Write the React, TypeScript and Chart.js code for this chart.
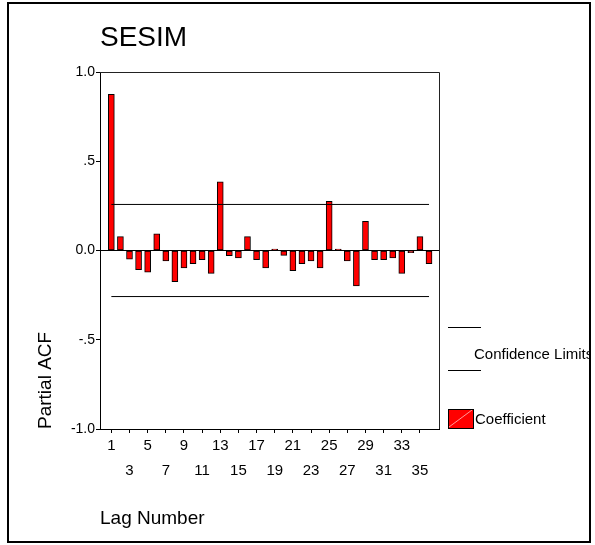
import React, { useEffect, useRef } from "react";
import { Chart, registerables } from "chart.js";

Chart.register(...registerables);

// ---- data ----
const lags = [1, 2, 3, 4, 5, 6, 7, 8, 9, 10, 11, 12, 13, 14, 15, 16, 17, 18, 19, 20, 21, 22, 23, 24, 25, 26, 27, 28, 29, 30, 31, 32, 33, 34, 35, 36];
const pacf = [
  0.875, 0.078, -0.049, -0.107, -0.121, 0.093, -0.058, -0.175, -0.097, -0.074,
  -0.051, -0.128, 0.385, -0.029, -0.041, 0.078, -0.051, -0.097, 0.008, -0.027,
  -0.113, -0.074, -0.058, -0.097, 0.276, 0.008, -0.058, -0.198, 0.163, -0.051,
  -0.051, -0.041, -0.128, -0.012, 0.078, -0.074,
];
const upperLimit = [0.258, 0.258];
const lowerLimit = [-0.258, -0.258];
const limitLags = [1, 36];
const xTickLags = [1, 3, 5, 7, 9, 11, 13, 15, 17, 19, 21, 23, 25, 27, 29, 31, 33, 35];
const yTickValues = [-1, -0.5, 0, 0.5, 1];
const yTickLabels = ["-1.0", "-.5", "0.0", ".5", "1.0"];
const chartTitle = "SESIM";
const yTitle = "Partial ACF";
const xTitle = "Lag Number";
const legendLabels = ["Confidence Limits", "Coefficient"];

const FONT = '"Liberation Sans", Arial, Helvetica, sans-serif';

const decorPlugin = {
  id: "decor",
  beforeDraw(chart: any) {
    const { ctx, width, height } = chart;
    ctx.save();
    ctx.fillStyle = "#ffffff";
    ctx.fillRect(0, 0, width, height);
    ctx.restore();
  },
  afterDraw(chart: any) {
    const { ctx } = chart;
    const { left, right, top, bottom } = chart.chartArea;
    ctx.save();
    // top and right edges of plot frame
    ctx.strokeStyle = "#222";
    ctx.lineWidth = 1;
    ctx.beginPath();
    ctx.moveTo(left, top + 0.5);
    ctx.lineTo(right + 0.5, top + 0.5);
    ctx.lineTo(right + 0.5, bottom);
    ctx.stroke();

    // outer frame
    ctx.strokeStyle = "#000";
    ctx.lineWidth = 2;
    ctx.strokeRect(8, 3, 582, 539);

    // title
    ctx.fillStyle = "#000";
    ctx.font = `28px ${FONT}`;
    ctx.textAlign = "left";
    ctx.textBaseline = "middle";
    ctx.fillText(chartTitle, left, 38);

    // legend: confidence limits
    const lx = right + 9;
    ctx.lineWidth = 1;
    ctx.strokeStyle = "#000";
    ctx.beginPath();
    ctx.moveTo(lx, 327.5);
    ctx.lineTo(lx + 33, 327.5);
    ctx.moveTo(lx, 370.5);
    ctx.lineTo(lx + 33, 370.5);
    ctx.stroke();

    ctx.save();
    ctx.beginPath();
    ctx.rect(0, 0, 589, 545);
    ctx.clip();
    ctx.font = `15px ${FONT}`;
    ctx.fillText(legendLabels[0], lx + 26, 355);
    ctx.restore();

    // legend: coefficient
    ctx.fillStyle = "#ff0000";
    ctx.fillRect(lx, 409, 25, 19);
    ctx.strokeStyle = "#ff9a9a";
    ctx.beginPath();
    ctx.moveTo(lx + 1, 427);
    ctx.lineTo(lx + 24, 410);
    ctx.stroke();
    ctx.strokeStyle = "#000";
    ctx.strokeRect(lx + 0.5, 409.5, 25, 19);
    ctx.fillStyle = "#000";
    ctx.font = `15px ${FONT}`;
    ctx.fillText(legendLabels[1], lx + 27, 420);
    ctx.restore();
  },
};

export default function App() {
  const ref = useRef<HTMLCanvasElement | null>(null);

  useEffect(() => {
    if (!ref.current) return;
    const chart = new Chart(ref.current, {
      type: "bar",
      data: {
        datasets: [
          {
            type: "line",
            label: "Upper",
            data: limitLags.map((x, i) => ({ x, y: upperLimit[i] })),
            borderColor: "#000",
            borderWidth: 1,
            pointRadius: 0,
            fill: false,
            order: 0,
          } as any,
          {
            type: "line",
            label: "Lower",
            data: limitLags.map((x, i) => ({ x, y: lowerLimit[i] })),
            borderColor: "#000",
            borderWidth: 1,
            pointRadius: 0,
            fill: false,
            order: 0,
          } as any,
          {
            type: "bar",
            label: "Coefficient",
            data: lags.map((x, i) => ({ x, y: pacf[i] })),
            backgroundColor: "#ff0000",
            borderColor: "#000",
            borderWidth: 1,
            borderSkipped: false,
            barThickness: 6,
            grouped: false,
            order: 1,
          } as any,
        ],
      },
      options: {
        responsive: false,
        animation: false,
        devicePixelRatio: 1,
        layout: { padding: { left: 0, right: 156, top: 72, bottom: 0 } },
        plugins: {
          legend: { display: false },
          tooltip: { enabled: false },
          title: { display: false },
        },
        scales: {
          x: {
            type: "linear",
            min: -0.25,
            max: 37.1,
            offset: false,
            afterBuildTicks: (scale: any) => {
              scale.ticks = xTickLags.map((v) => ({ value: v }));
            },
            afterFit: (scale: any) => {
              scale.height = 116;
            },
            grid: {
              offset: false,
              drawOnChartArea: false,
              drawTicks: true,
              tickLength: 4,
              tickColor: "#000",
              color: "#000",
            },
            border: { display: true, color: "#000", width: 1 },
            ticks: {
              autoSkip: false,
              maxRotation: 0,
              minRotation: 0,
              padding: 0,
              color: "#000",
              font: { family: FONT, size: 15, lineHeight: "25px" },
              callback: (value: any, index: number) =>
                index % 2 === 0 ? String(value) : ["", String(value)],
            },
            title: {
              display: true,
              text: xTitle,
              align: "start",
              color: "#000",
              font: { family: FONT, size: 19 },
              padding: { top: 0, bottom: 15 },
            },
          },
          y: {
            type: "linear",
            min: -1,
            max: 1,
            afterBuildTicks: (scale: any) => {
              scale.ticks = yTickValues.map((v) => ({ value: v }));
            },
            afterFit: (scale: any) => {
              scale.width = 100;
            },
            grid: {
              drawOnChartArea: true,
              drawTicks: true,
              tickLength: 4,
              tickColor: "#000",
              color: (c: any) => (c.tick && c.tick.value === 0 ? "#000" : "rgba(0,0,0,0)"),
            },
            border: { display: true, color: "#000", width: 1 },
            ticks: {
              padding: 1,
              color: "#000",
              font: { family: FONT, size: 14 },
              callback: (value: any) => {
                const i = yTickValues.indexOf(Number(value));
                return i >= 0 ? yTickLabels[i] : "";
              },
            },
            title: {
              display: true,
              text: yTitle,
              align: "start",
              color: "#000",
              font: { family: FONT, size: 19 },
              padding: { top: 34, bottom: 0 },
            },
          },
        },
      },
      plugins: [decorPlugin],
    } as any);
    return () => chart.destroy();
  }, []);

  return (
    <div style={{ position: "absolute", left: 0, top: 0, width: 595, height: 545, background: "#fff" }}>
      <canvas ref={ref} width={595} height={545} style={{ display: "block", width: 595, height: 545 }} />
    </div>
  );
}
